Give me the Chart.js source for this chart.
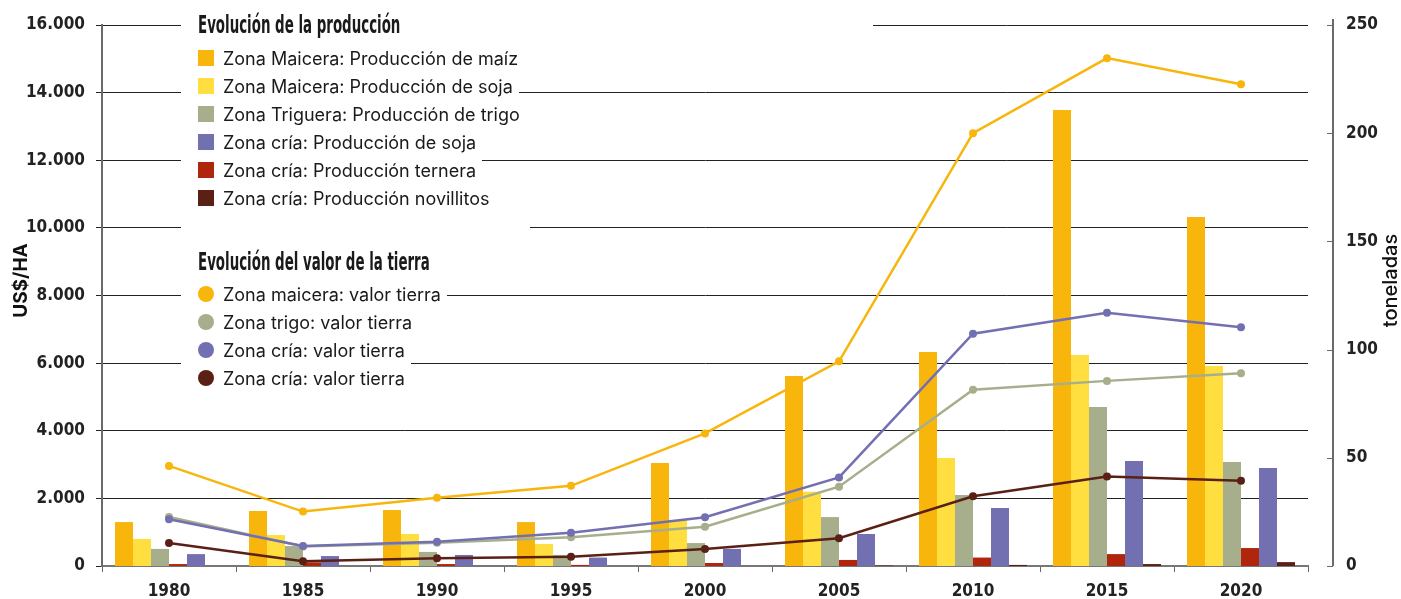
<!DOCTYPE html>
<html lang="es">
<head>
<meta charset="utf-8">
<title>Evolución de la producción y del valor de la tierra</title>
<script src="https://cdn.jsdelivr.net/npm/chart.js@4.4.1/dist/chart.umd.min.js"></script>
<style>
    html, body { margin: 0; padding: 0; background: #fff; }
    #wrap { position: relative; width: 1401px; height: 599px; }
    #legend { position: absolute; left: 181px; top: 11px; color: #1a1a1a; font-family: Inter, 'Noto Sans', sans-serif; }
    .lg-title {
        box-sizing: border-box; height: 28px; line-height: 28px; padding-left: 17px; background: #fff; white-space: nowrap;
        font-family: 'Liberation Sans Narrow', 'DejaVu Sans Condensed', sans-serif; font-weight: 700; font-size: 24px;
    }
    .lg-title span { display: inline-block; transform: scaleX(0.62); transform-origin: left center; }
    .lg-row { box-sizing: border-box; height: 28px; display: flex; align-items: center; padding-left: 17px; font-size: 18px; width: max-content; padding-right: 6px; background: #fff; white-space: nowrap; }
    .lg-swatch { width: 16px; height: 16px; margin-right: 9px; flex: none; }
    .lg-dot { border-radius: 50%; }
    .lg-gap-a { height: 5px; }
    .lg-gap-b { height: 36px; background: #fff; width: 349px; }
    .lg-gap-c { height: 4px; }
    /* white boxes behind the legend that interrupt some gridlines */
    #lg-prod .lg-title { width: 692px; }
    #lg-prod .lg-row:nth-of-type(2) { min-width: 364px; }
    #lg-prod .lg-row:nth-of-type(5) { min-width: 454px; }
    #lg-val .lg-title { width: 290px; }
    #lg-val .lg-row:nth-of-type(1) { min-width: 297px; }
    #lg-val .lg-row:nth-of-type(3) { min-width: 227px; }
</style>
</head>
<body>
<div id="wrap">
    <canvas id="chart"></canvas>
    <div id="legend"></div>
</div>
<script>
const years = ['1980', '1985', '1990', '1995', '2000', '2005', '2010', '2015', '2020'];

// production, toneladas (right axis)
const maizMaicera = [20.3, 25.4, 25.9, 20.3, 47.6, 87.8, 98.9, 210.7, 161.3];
const sojaMaicera = [12.5, 14.3, 14.8, 10.2, 21.3, 34.3, 49.9, 97.5, 92.4];
const trigoTriguera = [7.9, 9.2, 6.5, 5.1, 10.6, 22.6, 32.8, 73.5, 48.1];
const terneraCria = [0.9, 1.7, 0.9, 0.5, 1.4, 2.8, 3.9, 5.5, 8.3];
const sojaCria = [5.5, 4.6, 5.1, 3.9, 7.9, 14.8, 26.8, 48.5, 45.3];
const novillitosCria = [0, 0, 0, 0, 0, 0.2, 0.5, 0.9, 1.8];

// land value, US$/HA (left axis)
const valorMaicera = [2960, 1610, 2020, 2370, 3920, 6055, 12800, 15020, 14250];
const valorTrigo = [1450, 580, 690, 850, 1160, 2345, 5215, 5475, 5700];
const valorCria = [1385, 590, 720, 980, 1440, 2620, 6870, 7490, 7060];
const valorCria2 = [680, 140, 230, 270, 500, 820, 2060, 2650, 2520];

const leftTicks = [0, 2000, 4000, 6000, 8000, 10000, 12000, 14000, 16000];
const rightTicks = [0, 50, 100, 150, 200, 250];

const C = {
    maiz: '#f8b50c',
    soja: '#fedf3f',
    trigo: '#a6ae8c',
    criaSoja: '#7370b2',
    ternera: '#b0260d',
    novillitos: '#5a2016',
};

const narrow = "'Liberation Sans Narrow', 'DejaVu Sans Condensed', sans-serif";
const fmt = new Intl.NumberFormat('de-DE');

function bar(label, data, color, legendOrder) {
    return { type: 'bar', label, data, backgroundColor: color, borderWidth: 0, yAxisID: 'y2', order: 10, legendOrder };
}

function line(label, data, color, order) {
    return {
        type: 'line', label, data, yAxisID: 'y', order,
        borderColor: color, backgroundColor: color, pointBackgroundColor: color,
        borderWidth: 2.5, pointRadius: 4, pointBorderWidth: 0, tension: 0,
    };
}

// right axis drawn apart from the plot, plus both axis titles reading bottom-up
const axisDecor = {
    id: 'axisDecor',
    afterDraw(chart, args, opts) {
        const { ctx, chartArea, scales } = chart;
        const y2 = scales.y2;
        const x = chartArea.right + opts.gap;
        const midY = (chartArea.top + chartArea.bottom) / 2 - 15;
        ctx.save();
        ctx.strokeStyle = opts.color;
        ctx.lineWidth = 2;
        ctx.beginPath();
        ctx.moveTo(x, y2.top - 6);
        ctx.lineTo(x, y2.bottom);
        ctx.stroke();
        ctx.lineWidth = 1;
        y2.ticks.forEach((t) => {
            const y = Math.round(y2.getPixelForValue(t.value)) + 0.5;
            ctx.beginPath();
            ctx.moveTo(x - 6, y);
            ctx.lineTo(x, y);
            ctx.stroke();
        });
        ctx.fillStyle = '#111';
        ctx.textAlign = 'center';
        ctx.textBaseline = 'middle';
        [[opts.left, 21], [opts.right, 1391]].forEach(([t, tx]) => {
            ctx.save();
            ctx.translate(tx, midY);
            ctx.rotate(-Math.PI / 2);
            ctx.font = t.font;
            ctx.fillText(t.text, 0, 0);
            ctx.restore();
        });
        ctx.restore();
    },
};

function buildLegend(chart) {
    const el = document.getElementById('legend');
    const sets = chart.data.datasets;
    const bars = sets.filter((d) => d.type === 'bar').sort((a, b) => a.legendOrder - b.legendOrder);
    const lines = sets.filter((d) => d.type === 'line');
    const row = (d, dot) => `<div class="lg-row"><span class="lg-swatch${dot ? ' lg-dot' : ''}" style="background:${d.backgroundColor}"></span>${d.label}</div>`;
    el.innerHTML =
        '<div id="lg-prod"><div class="lg-title"><span>Evolución de la producción</span></div><div class="lg-gap-a"></div>' +
        bars.map((d) => row(d, false)).join('') + '</div>' +
        '<div class="lg-gap-b"></div>' +
        '<div id="lg-val"><div class="lg-title"><span>Evolución del valor de la tierra</span></div><div class="lg-gap-c"></div>' +
        lines.map((d) => row(d, true)).join('') + '</div>';
}

const chart = new Chart(document.getElementById('chart'), {
    data: {
        labels: years,
        datasets: [
            line('Zona maicera: valor tierra', valorMaicera, C.maiz, 1),
            line('Zona trigo: valor tierra', valorTrigo, C.trigo, 3),
            line('Zona cría: valor tierra', valorCria, C.criaSoja, 2),
            line('Zona cría: valor tierra', valorCria2, C.novillitos, 4),
            bar('Zona Maicera: Producción de maíz', maizMaicera, C.maiz, 1),
            bar('Zona Maicera: Producción de soja', sojaMaicera, C.soja, 2),
            bar('Zona Triguera: Producción de trigo', trigoTriguera, C.trigo, 3),
            bar('Zona cría: Producción ternera', terneraCria, C.ternera, 5),
            bar('Zona cría: Producción de soja', sojaCria, C.criaSoja, 4),
            bar('Zona cría: Producción novillitos', novillitosCria, C.novillitos, 6),
        ],
    },
    options: {
        responsive: true,
        maintainAspectRatio: false,
        animation: false,
        layout: { padding: { top: 25, left: 0, right: 0, bottom: 0 } },
        datasets: {
            bar: { categoryPercentage: 0.806, barPercentage: 1 },
        },
        plugins: {
            legend: { display: false },
            tooltip: { enabled: false },
            axisDecor: {
                gap: 25,
                color: '#6a6a6a',
                left: { text: 'US$/HA', font: "700 19px Inter, 'Noto Sans', sans-serif" },
                right: { text: 'toneladas', font: "500 20px Inter, 'Noto Sans', sans-serif" },
            },
        },
        scales: {
            x: {
                offset: true,
                grid: { offset: true, drawOnChartArea: false, tickLength: 6, color: '#666' },
                border: { color: '#777', width: 2 },
                ticks: { color: '#222', padding: 9, font: { family: narrow, weight: 'bold', size: 17 } },
                afterFit: (s) => { s.height = 33; },
            },
            y: {
                position: 'left',
                min: 0,
                max: 16000,
                afterBuildTicks: (s) => { s.ticks = leftTicks.map((v) => ({ value: v })); },
                grid: { color: '#222', lineWidth: 1, tickLength: 6 },
                border: { color: '#6a6a6a', width: 2 },
                ticks: { color: '#222', padding: 11, font: { family: narrow, weight: 'bold', size: 17 }, callback: (v) => fmt.format(v) },
                afterFit: (s) => { s.width = 102; },
            },
            y2: {
                position: 'right',
                min: 0,
                max: 250,
                afterBuildTicks: (s) => { s.ticks = rightTicks.map((v) => ({ value: v })); },
                grid: { display: false, drawTicks: true, tickLength: 34 },
                border: { display: false },
                ticks: { color: '#222', padding: 4, font: { family: narrow, weight: 'bold', size: 17 } },
                afterFit: (s) => { s.width = 93; },
            },
        },
    },
    plugins: [axisDecor],
});

buildLegend(chart);
</script>
</body>
</html>
